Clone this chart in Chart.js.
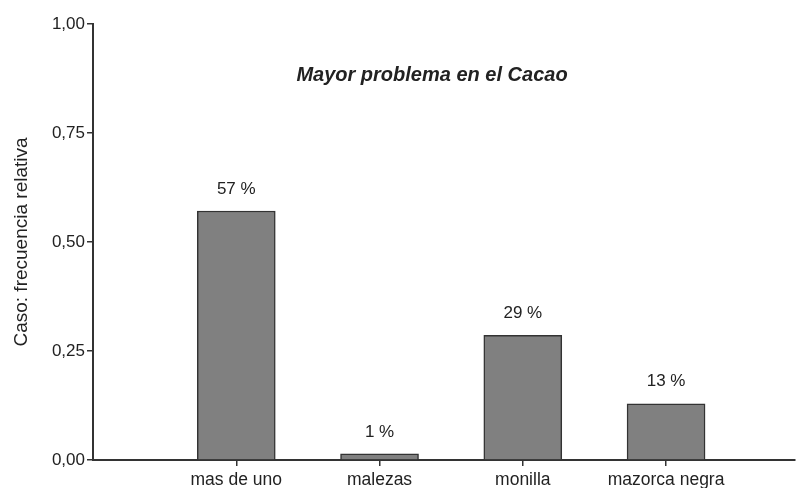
<!DOCTYPE html>
<html>
<head>
<meta charset="utf-8">
<script src="https://cdn.jsdelivr.net/npm/chart.js@4/dist/chart.umd.min.js"></script>
<style>
  html, body { margin: 0; padding: 0; background: #fff; }
  #wrap { width: 799px; height: 488px; }
</style>
</head>
<body>
<div id="wrap"><canvas id="chart" width="799" height="488"></canvas></div>
<script>
const categories = ['mas de uno', 'malezas', 'monilla', 'mazorca negra'];
const freq = [0.571, 0.014, 0.286, 0.129];
const pctLabels = ['57 %', '1 %', '29 %', '13 %'];
const yTicks = [0, 0.25, 0.5, 0.75, 1];

const FONT = "'Liberation Sans', Arial, sans-serif";
const INK = '#222';

const overlay = {
    id: 'overlay',
    afterDatasetsDraw(chart) {
        const ctx = chart.ctx, area = chart.chartArea;
        const meta = chart.getDatasetMeta(0);
        ctx.save();
        ctx.fillStyle = INK;
        ctx.textAlign = 'center';
        ctx.textBaseline = 'middle';
        ctx.font = `17px ${FONT}`;
        meta.data.forEach((bar, i) => ctx.fillText(pctLabels[i], bar.x, bar.y - 22));
        ctx.font = `italic bold 20px ${FONT}`;
        ctx.fillText('Mayor problema en el Cacao', (area.left + area.right) / 2 - 12, area.top + 51);
        ctx.restore();
    }
};

new Chart(document.getElementById('chart'), {
    type: 'bar',
    data: {
        datasets: [{
            data: categories.map((c, i) => ({ x: i + 1, y: freq[i] })),
            backgroundColor: '#808080',
            borderColor: '#333',
            borderWidth: 1.5,
            borderSkipped: 'bottom',
            barThickness: 78
        }]
    },
    options: {
        responsive: false,
        animation: false,
        layout: { padding: { top: 24, right: 4, left: 0, bottom: 0 } },
        plugins: { legend: { display: false }, tooltip: { enabled: false } },
        scales: {
            x: {
                type: 'linear',
                min: 0,
                max: 4.9,
                offset: false,
                afterBuildTicks: s => { s.ticks = categories.map((c, i) => ({ value: i + 1 })); },
                afterFit: s => { s.height = 28; },
                grid: { offset: false, drawOnChartArea: false, drawTicks: true, tickLength: 6, color: '#333', lineWidth: 1.5 },
                border: { color: '#333', width: 2 },
                ticks: { color: INK, font: { family: FONT, size: 17.5 }, padding: 4, maxRotation: 0, autoSkip: false,
                    callback: v => categories[v - 1] }
            },
            y: {
                min: 0,
                max: 1,
                afterBuildTicks: s => { s.ticks = yTicks.map(v => ({ value: v })); },
                afterFit: s => { s.width = 93; },
                grid: { drawOnChartArea: false, drawTicks: true, tickLength: 6, color: '#333', lineWidth: 1.5 },
                border: { color: '#333', width: 2 },
                ticks: { color: INK, font: { family: FONT, size: 17 }, padding: 2,
                    callback: v => v.toFixed(2).replace('.', ',') },
                title: { display: true, text: 'Caso: frecuencia relativa', color: INK,
                    font: { family: FONT, size: 19 }, padding: { top: 10, bottom: 0 } }
            }
        }
    },
    plugins: [overlay]
});
</script>
</body>
</html>
